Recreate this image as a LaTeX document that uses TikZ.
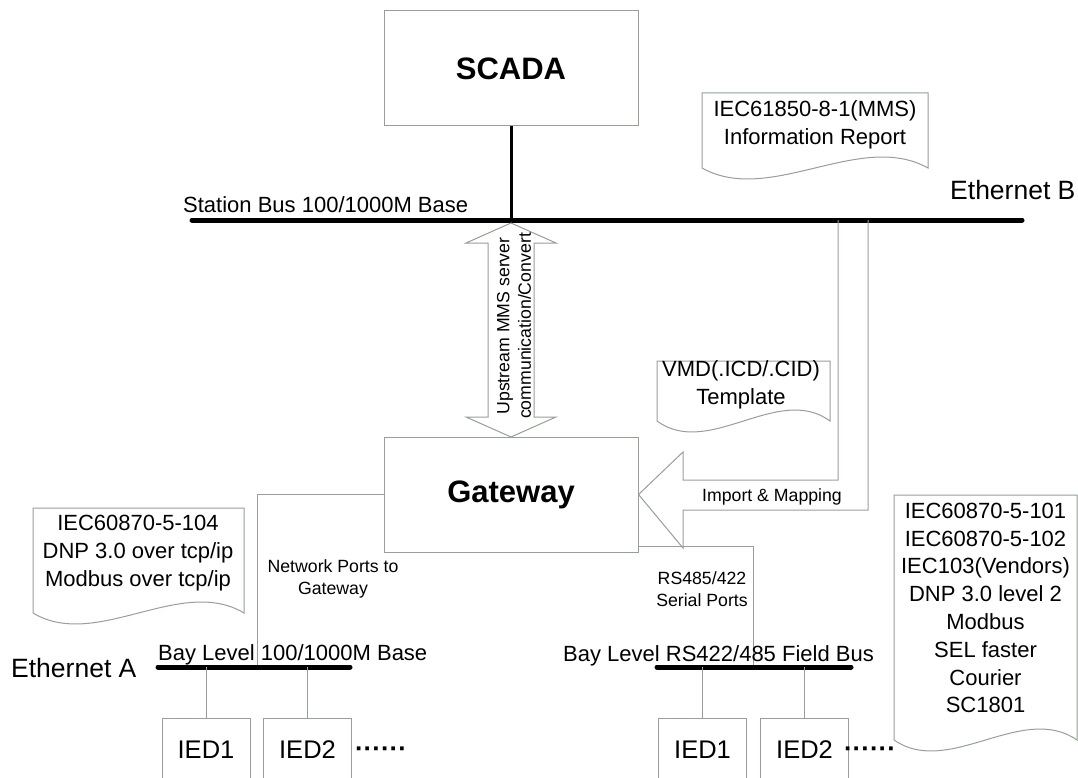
\documentclass[tikz,border=0pt]{standalone}
\usepackage{fontspec}
\setmainfont{Liberation Sans}
\usetikzlibrary{calc}

\definecolor{edgegray}{RGB}{150,160,150}

% paper sheet with a wavy lower edge: left, top, right, bottom
\newcommand{\docsheet}[4]{%
  \draw[sheet] (#1,#2) -- (#3,#2) -- (#3,#4)
    .. controls ({#3-0.3*(#3-#1)},{#4-38}) and ({#1+0.3*(#3-#1)},{#4+38}) .. (#1,#4) -- cycle;}

\begin{document}
\begin{tikzpicture}[x=1pt, y=-1pt,
  boxnode/.style={rectangle, draw=edgegray, line width=1pt, inner sep=0pt},
  titletxt/.style={font=\fontsize{31}{36}\selectfont\bfseries},
  labtxt/.style={font=\fontsize{22}{27.8}\selectfont, inner sep=0pt, align=center},
  smalltxt/.style={font=\fontsize{17.7}{21.5}\selectfont, inner sep=0pt, align=center},
  ethtxt/.style={font=\fontsize{26.5}{30}\selectfont, inner sep=0pt},
  dots/.style={font=\fontsize{26}{30}\selectfont\bfseries, inner sep=0pt},
  sheet/.style={draw=edgegray, line width=1pt, fill=white},
  bus/.style={line width=5pt, line cap=round},
  wire/.style={draw=edgegray, line width=1pt}]
  \clip (0,0) rectangle (1078,778);
  % station level
  \node[boxnode, titletxt, minimum width=254pt, minimum height=115pt] (scada) at (511,68.5) {SCADA};
  \coordinate (sbL) at (192,220);
  \coordinate (sbR) at (1022,220);
  \draw[bus] (sbL) -- (sbR);
  \draw[line width=3pt] (scada.south) -- (scada.south |- sbL);
  \node[labtxt, anchor=base west] (sblab) at (183,212) {Station Bus 100/1000M Base};
  \node[ethtxt, anchor=base west] (ethB) at (950,200) {Ethernet B};
  \docsheet{702}{93}{928}{168}
  \node[labtxt] (mmsrep) at (815,124.5) {IEC61850-8-1(MMS)\\Information Report};
  % gateway
  \node[boxnode, titletxt, minimum width=254pt, minimum height=115pt] (gw) at (511,494.5) {Gateway};
  \coordinate (upT) at (511,223);
  \coordinate (upB) at (511,437);
  \draw[sheet] (upT) -- ++(45,20) -- ++(-22,0) -- ++(0,174) -- ++(22,0) -- (upB)
    -- ++(-45,-20) -- ++(22,0) -- ++(0,-174) -- ++(-22,0) -- cycle;
  \node[smalltxt, rotate=90] (upmmslab) at (514,326) {Upstream MMS server\\communication/Convert};
  \coordinate (impA) at (838,220);
  \coordinate (impB) at (868,220);
  \draw[wire] (impA) -- (838,480) -- (683,480) -- (683,452) -- (gw.east)
    -- (683,548) -- (683,510) -- (868,510) -- (impB);
  \node[smalltxt] (implab) at (772,497) {Import \& Mapping};
  \docsheet{657}{361}{830}{421}
  \node[labtxt] (vmd) at (741,385) {VMD(.ICD/.CID)\\Template};
  % bay level, network side
  \coordinate (baL) at (158,667);
  \coordinate (baR) at (350,667);
  \coordinate (netport) at (257,667);
  \draw[wire] (gw.west) -| (netport);
  \draw[bus] (baL) -- (baR);
  \node[smalltxt] (netlab) at (333,579) {Network Ports to\\Gateway};
  \node[labtxt, anchor=base west] (bayA) at (158,660) {Bay Level 100/1000M Base};
  \node[ethtxt, anchor=base west] (ethA) at (11,677) {Ethernet A};
  \docsheet{33}{508}{244}{613}
  \node[labtxt] (tcpip) at (138,553) {IEC60870-5-104\\DNP 3.0 over tcp/ip\\Modbus over tcp/ip};
  \foreach \name/\xx/\lab in {iedA1/206/IED1, iedA2/307.5/IED2} {
    \node[boxnode, labtxt, font=\fontsize{25.5}{30}\selectfont, minimum width=88pt, minimum height=62pt, anchor=north] (\name) at (\xx,718) {\lab};
    \draw[wire] (\name.north) -- (\name.north |- baL);
  }
  \node[dots] (moreA) at (381,752) {······};
  % bay level, serial side
  \coordinate (fbL) at (657,667);
  \coordinate (fbR) at (851,667);
  \coordinate (serport) at (753,667);
  \draw[wire] ($(gw.south east)+(0,-6)$) -| (serport);
  \draw[bus] (fbL) -- (fbR);
  \node[smalltxt] (serlab) at (702,589) {RS485/422\\Serial Ports};
  \node[labtxt, anchor=base west] (bayB) at (563,661) {Bay Level RS422/485 Field Bus};
  \foreach \name/\xx/\lab in {iedB1/702.5/IED1, iedB2/804.5/IED2} {
    \node[boxnode, labtxt, font=\fontsize{25.5}{30}\selectfont, minimum width=88pt, minimum height=62pt, anchor=north] (\name) at (\xx,718) {\lab};
    \draw[wire] (\name.north) -- (\name.north |- fbL);
  }
  \node[dots] (moreB) at (870,752) {······};
  \docsheet{894}{495}{1077}{740}
  \node[labtxt] (serproto) at (985.5,608) {IEC60870-5-101\\IEC60870-5-102\\IEC103(Vendors)\\DNP 3.0 level 2\\Modbus\\SEL faster\\Courier\\SC1801};
\end{tikzpicture}
\end{document}
